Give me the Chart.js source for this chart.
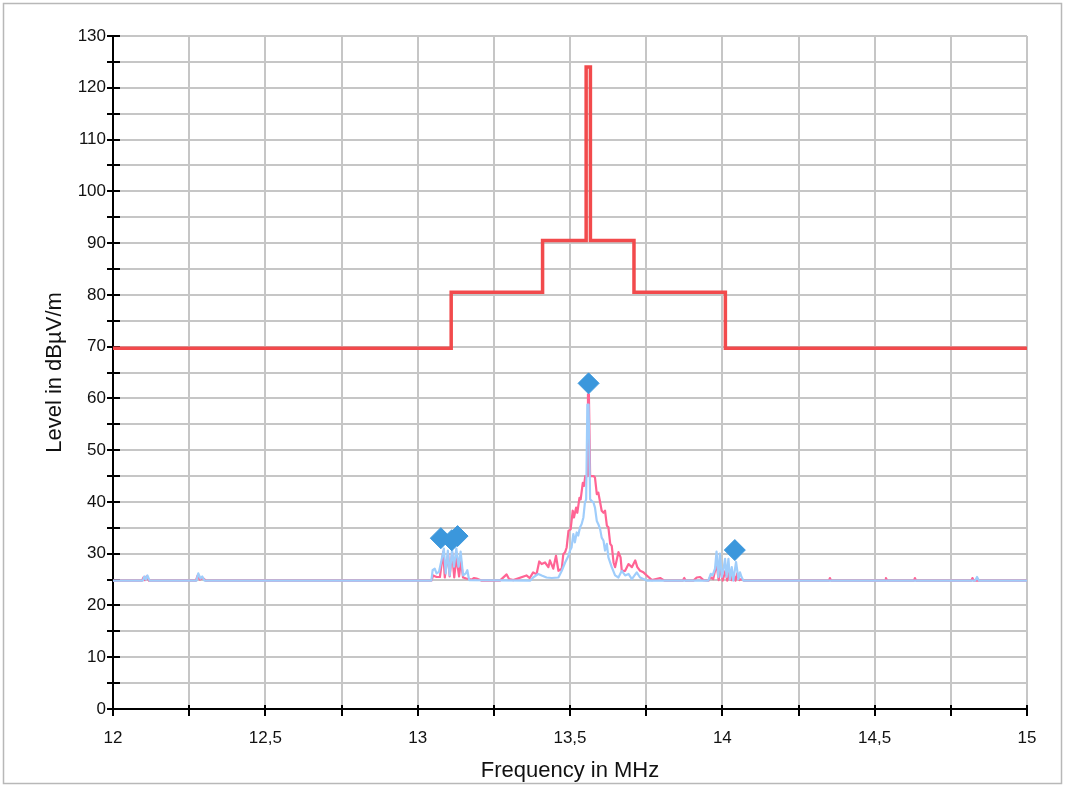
<!DOCTYPE html>
<html>
<head>
<meta charset="utf-8">
<title>Level vs Frequency</title>
<script src="https://cdn.jsdelivr.net/npm/chart.js@4/dist/chart.umd.min.js"></script>
<style>
  html, body { margin: 0; padding: 0; background: #fff; }
  #wrap { position: relative; width: 1065px; height: 787px; }
  canvas { display: block; }
</style>
</head>
<body>
<div id="wrap"><canvas id="chart" width="1065" height="787"></canvas></div>
<script>
// Limit line (dBµV/m) as stepped corner points
const limitFreq  = [12, 13.11, 13.11, 13.41, 13.41, 13.553, 13.553, 13.567, 13.567, 13.71, 13.71, 14.01, 14.01, 15];
const limitLevel = [69.7, 69.7, 80.5, 80.5, 90.5, 90.5, 124, 124, 90.5, 90.5, 80.5, 80.5, 69.7, 69.7];

// Trace 1 (pink)
const pinkFreq = [
  12.000, 12.095, 12.100, 12.105, 12.110, 12.118, 12.272, 12.278, 12.285, 12.295, 12.305,
  13.045, 13.051, 13.062, 13.073, 13.084, 13.089, 13.100, 13.105, 13.113, 13.120, 13.127,
  13.136, 13.142, 13.149, 13.160, 13.177, 13.185, 13.193, 13.209,
  13.270, 13.292, 13.300, 13.314, 13.357, 13.368, 13.379, 13.390, 13.399, 13.407, 13.418,
  13.429, 13.434, 13.445, 13.454, 13.462, 13.473, 13.478, 13.484, 13.489, 13.495, 13.502,
  13.509, 13.513, 13.520, 13.524, 13.531, 13.535, 13.542, 13.546, 13.550, 13.556, 13.559,
  13.562, 13.566, 13.577, 13.582, 13.588, 13.593, 13.599, 13.604, 13.610, 13.615, 13.621,
  13.626, 13.632, 13.637, 13.643, 13.648, 13.659, 13.666, 13.670, 13.681, 13.692, 13.703,
  13.714, 13.721, 13.730, 13.741, 13.752, 13.769, 13.796, 13.810,
  13.870, 13.875, 13.880, 13.905, 13.916, 13.927, 13.938, 13.955, 13.960, 13.970, 13.981,
  13.988, 13.995, 14.001, 14.010, 14.016, 14.023, 14.030, 14.036, 14.043, 14.049, 14.056,
  14.063, 14.071, 14.350, 14.353, 14.357, 14.534, 14.537, 14.541, 14.629, 14.632, 14.636,
  14.817, 14.821, 14.825, 15.000
];
const pinkLevel = [
  24.8, 24.8, 25.4, 24.9, 25.6, 24.8, 24.8, 25.8, 25.0, 25.3, 24.8,
  24.8, 25.8, 25.5, 25.5, 30.4, 25.4, 30.0, 25.6, 30.2, 25.4, 29.3,
  25.6, 28.6, 25.4, 25.2, 25.0, 25.3, 25.2, 24.8,
  24.8, 26.0, 25.1, 24.9, 25.8, 25.3, 26.4, 26.0, 28.5, 28.0, 28.3,
  27.4, 28.7, 27.1, 29.6, 26.7, 27.1, 29.9, 30.3, 31.2, 34.4, 34.7,
  38.3, 37.0, 38.9, 37.9, 40.8, 40.5, 43.7, 43.1, 45.0, 45.0, 60.8,
  60.8, 45.0, 45.0, 44.7, 41.5, 41.8, 39.9, 38.3, 37.9, 38.3, 35.4,
  35.1, 31.9, 31.5, 28.3, 27.4, 30.3, 29.3, 26.7, 26.7, 28.0, 27.4,
  28.7, 27.4, 26.7, 26.4, 25.8, 24.9, 25.3, 24.8,
  24.8, 25.3, 24.8, 24.8, 25.4, 25.5, 24.9, 24.8, 25.5, 25.1, 28.0,
  24.9, 27.4, 24.8, 26.7, 24.8, 26.4, 24.9, 26.1, 24.8, 26.2, 24.9,
  25.1, 24.8, 24.8, 25.3, 24.8, 24.8, 25.3, 24.8, 24.8, 25.3, 24.8,
  24.8, 25.3, 24.8, 24.8
];

// Trace 2 (light blue)
const blueFreq = [
  12.000, 12.098, 12.103, 12.108, 12.113, 12.120, 12.274, 12.280, 12.287, 12.293, 12.300,
  13.045, 13.049, 13.056, 13.062, 13.070, 13.078, 13.086, 13.092, 13.099, 13.105, 13.113,
  13.119, 13.127, 13.134, 13.141, 13.149, 13.158, 13.163, 13.169,
  13.370, 13.379, 13.396, 13.407, 13.423, 13.440, 13.462, 13.473, 13.484, 13.495, 13.500,
  13.505, 13.511, 13.516, 13.522, 13.527, 13.533, 13.538, 13.544, 13.549, 13.553, 13.557,
  13.561, 13.566, 13.571, 13.577, 13.582, 13.588, 13.593, 13.599, 13.604, 13.610, 13.615,
  13.621, 13.626, 13.637, 13.648, 13.659, 13.670, 13.681, 13.692, 13.703, 13.719, 13.730,
  13.752, 13.954, 13.962, 13.968, 13.976, 13.981, 13.987, 13.992, 13.998, 14.003, 14.009,
  14.014, 14.020, 14.025, 14.031, 14.036, 14.045, 14.053, 14.058, 14.063, 14.069,
  14.830, 14.836, 14.842, 15.000
];
const blueLevel = [
  24.8, 24.8, 25.6, 25.0, 25.8, 24.8, 24.8, 26.2, 25.2, 25.6, 24.8,
  24.8, 26.8, 27.1, 26.2, 26.5, 28.7, 31.0, 26.2, 30.6, 25.8, 30.8,
  27.5, 31.0, 27.5, 30.4, 25.8, 26.2, 26.8, 24.9,
  24.8, 25.4, 26.1, 25.8, 25.4, 25.3, 25.4, 26.7, 28.3, 29.6, 30.6,
  31.2, 33.8, 32.2, 34.1, 33.5, 35.1, 35.7, 37.0, 39.9, 40.5, 58.8,
  58.8, 40.5, 40.2, 39.9, 38.9, 36.3, 35.7, 34.7, 33.1, 32.5, 30.6,
  31.9, 29.3, 27.4, 25.8, 25.4, 26.7, 25.8, 26.1, 25.1, 26.4, 25.4,
  24.8, 24.8, 26.1, 25.8, 27.1, 30.4, 25.5, 30.0, 25.5, 26.7, 29.0,
  25.5, 29.0, 25.1, 27.4, 24.8, 28.4, 25.1, 26.4, 25.5, 24.8,
  24.8, 25.5, 24.8, 24.8
];

// Peak markers
const peakFreq  = [13.076, 13.112, 13.131, 13.561, 14.041];
const peakLevel = [33.0, 32.6, 33.4, 62.9, 30.7];

const FONT = "'Liberation Sans', Arial, Helvetica, sans-serif";
const pts = (xs, ys) => xs.map((x, i) => ({ x: x, y: ys[i] }));

// Page frame and the part of each tick mark that reaches into the plot area
const framePlugin = {
  id: 'frame',
  beforeDraw(chart) {
    const ctx = chart.ctx;
    ctx.save();
    ctx.fillStyle = '#ffffff';
    ctx.fillRect(0, 0, chart.width, chart.height);
    ctx.strokeStyle = '#b8b8b8';
    ctx.lineWidth = 1.5;
    ctx.strokeRect(3.5, 3.5, chart.width - 7, chart.height - 7);
    ctx.restore();
  },
  beforeDatasetsDraw(chart) {
    const ctx = chart.ctx;
    const { x, y } = chart.scales;
    const area = chart.chartArea;
    ctx.save();
    ctx.strokeStyle = '#000';
    ctx.lineWidth = 2;
    ctx.beginPath();
    y.ticks.forEach(t => {
      const py = Math.round(y.getPixelForValue(t.value));
      ctx.moveTo(area.left, py);
      ctx.lineTo(area.left + 7, py);
    });
    x.ticks.forEach(t => {
      const px = Math.round(x.getPixelForValue(t.value));
      ctx.moveTo(px, area.bottom);
      ctx.lineTo(px, area.bottom - 4);
    });
    ctx.stroke();
    ctx.restore();
  }
};

new Chart(document.getElementById('chart'), {
  type: 'scatter',
  data: {
    datasets: [
      {
        label: 'Peaks',
        data: pts(peakFreq, peakLevel),
        showLine: false,
        pointStyle: 'rectRot',
        pointRadius: 10.5,
        pointBackgroundColor: '#3b97dc',
        pointBorderColor: '#3b97dc',
        pointBorderWidth: 1,
        order: 0
      },
      {
        label: 'Trace 2',
        data: pts(blueFreq, blueLevel),
        showLine: true,
        borderColor: '#9fcdfb',
        borderWidth: 2.2,
        borderJoinStyle: 'round',
        pointRadius: 0,
        tension: 0,
        order: 1
      },
      {
        label: 'Trace 1',
        data: pts(pinkFreq, pinkLevel),
        showLine: true,
        borderColor: '#ff6494',
        borderWidth: 2.2,
        borderJoinStyle: 'round',
        pointRadius: 0,
        tension: 0,
        order: 2
      },
      {
        label: 'Limit',
        data: pts(limitFreq, limitLevel),
        showLine: true,
        borderColor: '#f24a4c',
        borderWidth: 3.5,
        borderJoinStyle: 'miter',
        pointRadius: 0,
        tension: 0,
        order: 3
      }
    ]
  },
  options: {
    responsive: false,
    animation: false,
    devicePixelRatio: 1,
    layout: { padding: { left: 0, top: 36, right: 38, bottom: 0 } },
    plugins: {
      legend: { display: false },
      tooltip: { enabled: false }
    },
    scales: {
      x: {
        type: 'linear',
        min: 12,
        max: 15,
        afterFit: s => { s.height = 78; },
        border: { display: true, color: '#000', width: 2 },
        grid: {
          color: '#c6c6c6',
          lineWidth: 2,
          tickColor: '#000',
          tickWidth: 2,
          tickLength: 7
        },
        ticks: {
          stepSize: 0.25,
          autoSkip: false,
          maxRotation: 0,
          padding: 12,
          color: '#111',
          font: { family: FONT, size: 17 },
          callback: v => (Math.abs(v * 2 - Math.round(v * 2)) < 1e-6) ? String(v).replace('.', ',') : ''
        },
        title: {
          display: true,
          text: 'Frequency in MHz',
          color: '#111',
          font: { family: FONT, size: 22 },
          padding: { top: 0, bottom: 3 }
        }
      },
      y: {
        type: 'linear',
        min: 0,
        max: 130,
        afterFit: s => { s.width = 113; },
        border: { display: true, color: '#000', width: 2 },
        grid: {
          color: '#c6c6c6',
          lineWidth: 2,
          tickColor: '#000',
          tickWidth: 2,
          tickLength: 6
        },
        ticks: {
          stepSize: 5,
          autoSkip: false,
          padding: 1,
          color: '#111',
          font: { family: FONT, size: 17 },
          callback: v => (v % 10 === 0) ? String(v) : ''
        },
        title: {
          display: true,
          text: 'Level in dBµV/m',
          color: '#111',
          font: { family: FONT, size: 22 },
          padding: { top: 42, bottom: 0 }
        }
      }
    }
  },
  plugins: [framePlugin]
});
</script>
</body>
</html>
